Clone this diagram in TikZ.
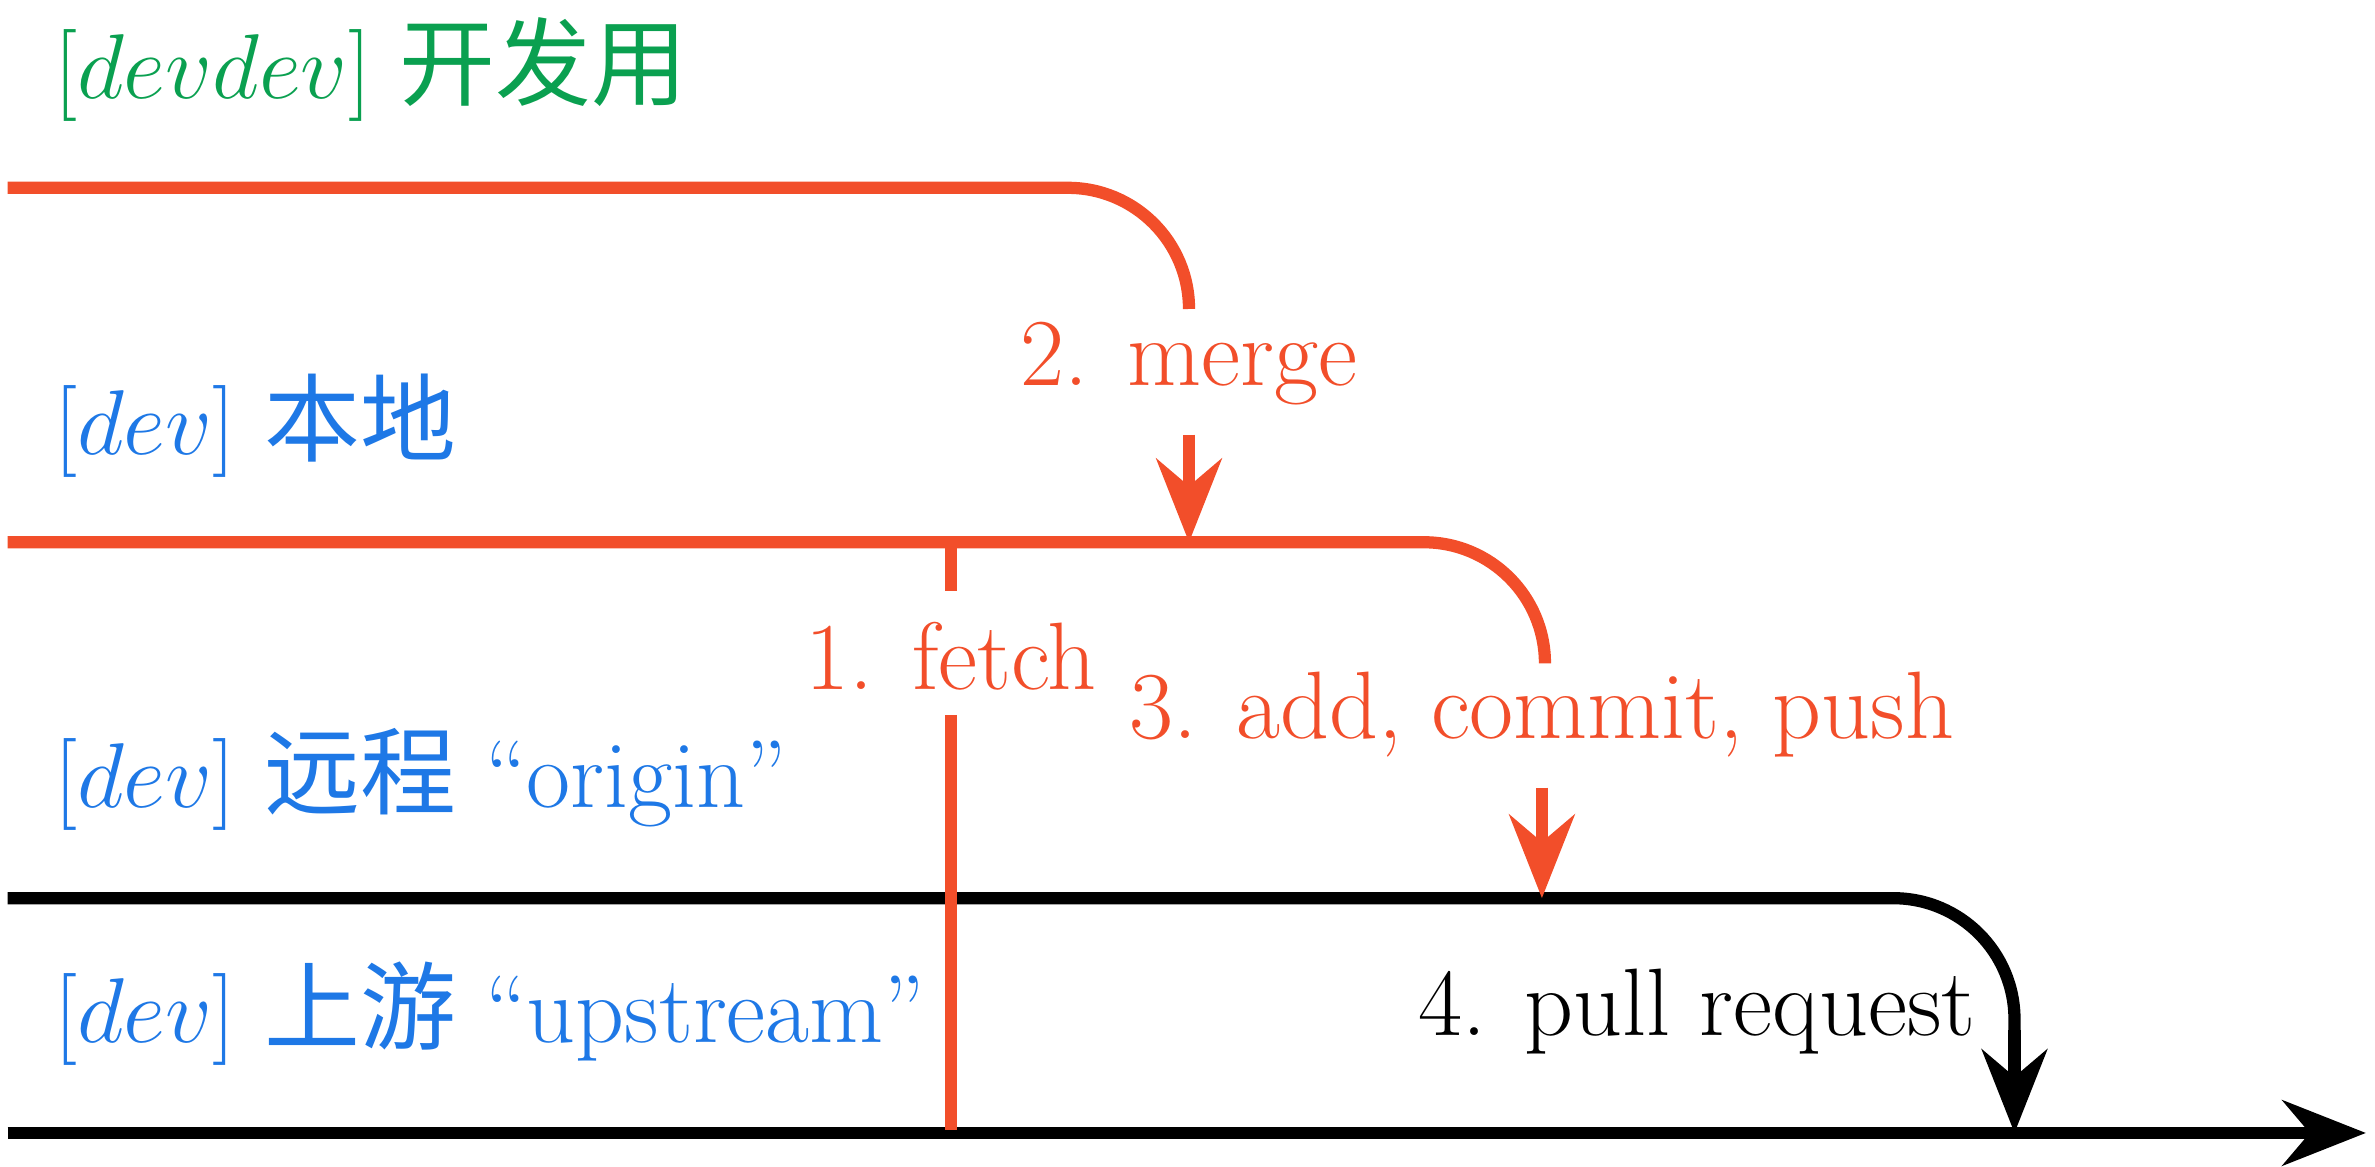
\documentclass[tikz,border=0pt]{standalone}
\usepackage{fontspec}
\newfontfamily\cjk{Noto Sans CJK SC}
\usetikzlibrary{arrows.meta}
\definecolor{gitred}{HTML}{F24E2A}
\definecolor{gitblue}{HTML}{1E78E6}
\definecolor{gitgreen}{HTML}{0AA050}
\begin{document}
\begin{tikzpicture}[x=0.01cm,y=-0.01cm,>={Stealth[length=5.5mm,width=4.3mm,inset=1.8mm]},
    branch/.style={line width=2.3pt},
    lbl/.style={inner sep=0pt,font=\fontsize{18}{21}\selectfont},
    bname/.style={lbl,anchor=base west}]
  \useasboundingbox (0,0) rectangle (1568,770);
  % branch names
  \node[bname,text=gitgreen] (ndd) at (35,65) {$[devdev]$ {\cjk 开发用}};
  \node[bname,text=gitblue] (nloc) at (35,300) {$[dev]$ {\cjk 本地}};
  \node[bname,text=gitblue] (nori) at (35,533) {$[dev]$ {\cjk 远程} “origin”};
  \node[bname,text=gitblue] (nup) at (35,688) {$[dev]$ {\cjk 上游} “upstream”};

  % step labels
  \node[lbl,text=gitred] (merge) at (785,240) {2. merge};
  \node[lbl,text=gitred] (fetch) at (628,433) {1. fetch};
  \node[lbl,text=gitred] (acp) at (1018,472) {3. add, commit, push};
  \node[lbl,anchor=east] (pr) at (1305,668) {4. pull request};

  % branches
  \coordinate (dd0) at (5,124);
  \coordinate (loc0) at (5,358);
  \coordinate (ori0) at (5,593);
  \coordinate (up0) at (5,748);
  \coordinate (up1) at (1562,748);
  \coordinate (mergehit) at (785,358);
  \coordinate (acphit) at (1018,593);
  \coordinate (prhit) at (1330,748);

  \draw[branch,gitred] (dd0) -- (705,124) arc[start angle=-90,end angle=0,radius=80];
  \draw[branch,gitred] (loc0) -- (940,358) arc[start angle=-90,end angle=0,radius=80];
  \draw[branch] (ori0) -- (1250,593) arc[start angle=-90,end angle=0,radius=80] -- (1330,690);
  \draw[branch,->] (up0) -- (up1);

  % arrows
  \draw[branch,gitred,->] (785,287) -- (mergehit);
  \draw[branch,gitred,->] (1018,520) -- (acphit);
  \draw[branch,->] (1330,680) -- (prhit);
  \draw[branch,gitred] (628,362) -- (628,390);
  \draw[branch,gitred] (628,472) -- (628,746);
\end{tikzpicture}
\end{document}
